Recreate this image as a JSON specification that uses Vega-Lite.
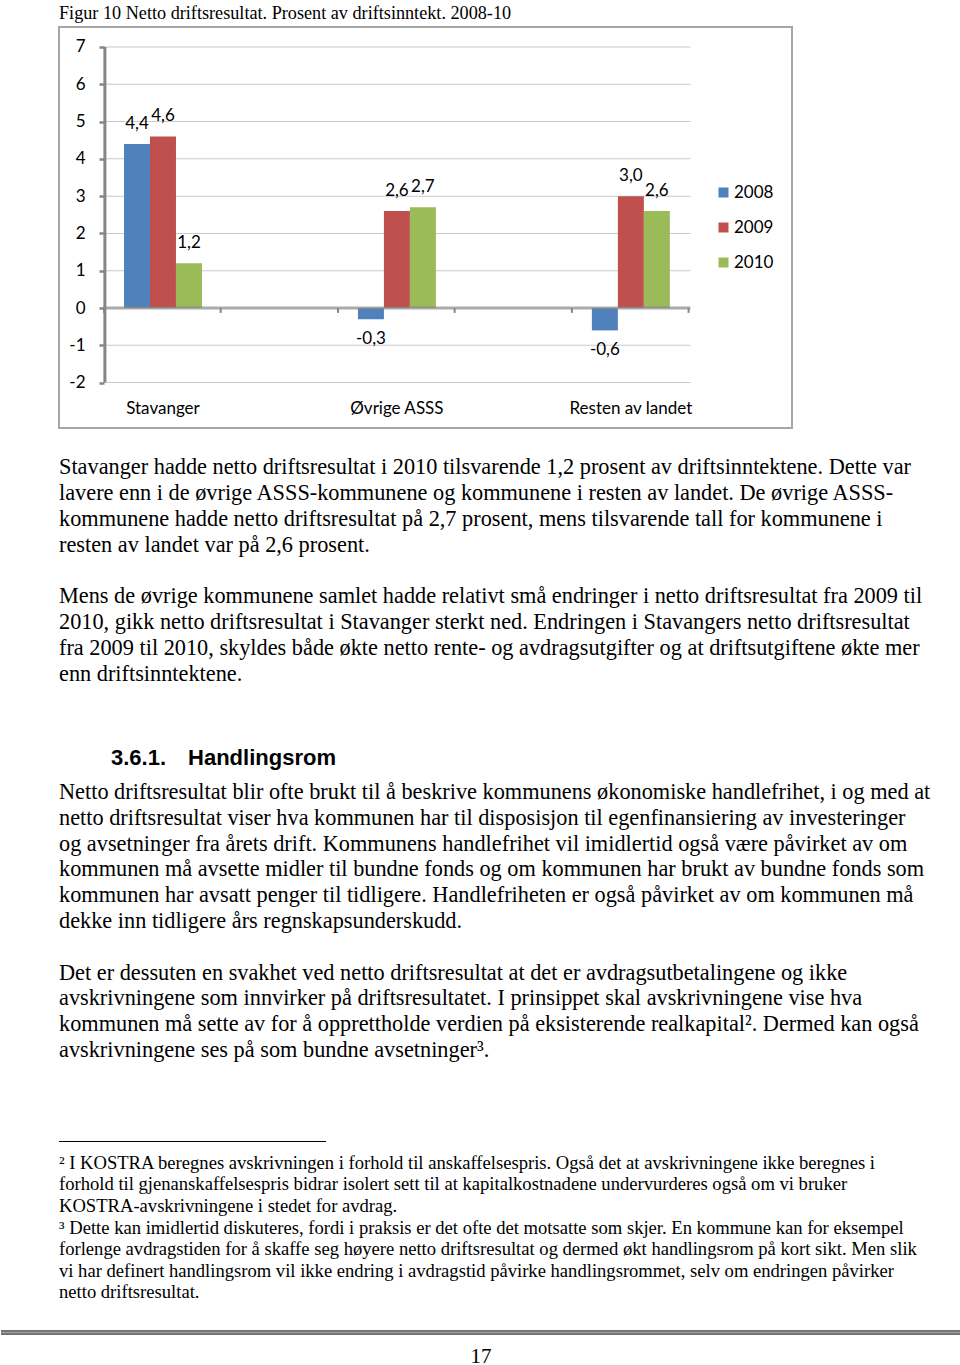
{
  "$schema": "https://vega.github.io/schema/vega-lite/v6.json",
  "background": "white",
  "padding": {"left": 0, "top": 2, "right": 0, "bottom": 0},
  "bounds": "flush",
  "spacing": 0,
  "config": {
    "view": {"stroke": null},
    "locale": {"number": {"decimal": ",", "thousands": " ", "grouping": [3], "currency": ["", " kr"], "minus": "-"}}
  },
  "vconcat": [
    {
      "width": 733,
      "height": 401,
      "view": {"stroke": "#a6a6a6", "strokeWidth": 2},
      "title": {"text": "Figur 10 Netto driftsresultat. Prosent av driftsinntekt. 2008-10", "anchor": "start", "font": "Liberation Serif", "fontSize": 18.2, "fontWeight": "normal", "color": "#000000", "baseline": "alphabetic", "offset": -10},
      "data": {"values": [
        {"region": "Stavanger", "year": "2008", "value": 4.4},
        {"region": "Stavanger", "year": "2009", "value": 4.6},
        {"region": "Stavanger", "year": "2010", "value": 1.2},
        {"region": "Øvrige ASSS", "year": "2008", "value": -0.3},
        {"region": "Øvrige ASSS", "year": "2009", "value": 2.6},
        {"region": "Øvrige ASSS", "year": "2010", "value": 2.7},
        {"region": "Resten av landet", "year": "2008", "value": -0.6},
        {"region": "Resten av landet", "year": "2009", "value": 3.0},
        {"region": "Resten av landet", "year": "2010", "value": 2.6}
      ]},
      "encoding": {
        "x": {"field": "region", "type": "nominal", "sort": null, "scale": {"domain": ["Stavanger", "Øvrige ASSS", "Resten av landet"], "paddingInner": 0.6667, "paddingOuter": 0.4, "align": 0.3473},
          "axis": {"orient": "bottom", "offset": -28, "zindex": 1, "domain": false, "ticks": false, "tickSize": 0, "labelPadding": 0, "labelAngle": 0, "labelFont": "Lato", "labelFontSize": 17, "labelColor": "#000000", "title": null}},
        "y": {"field": "value", "type": "quantitative", "scale": {"domain": [-3.217, 7.536], "nice": false, "zero": false},
          "axis": {"values": [-2, -1, 0, 1, 2, 3, 4, 5, 6, 7], "offset": -45, "zindex": 1, "domain": false, "grid": false, "ticks": true, "tickSize": 5, "tickWidth": 2.5, "tickColor": "#868686", "labelPadding": 14, "labelFont": "Lato", "labelFontSize": 17, "labelColor": "#000000", "title": null, "labelExpr": "datum.value < 0 ? '-' + abs(datum.value) : '' + datum.value"}}
      },
      "layer": [
        {
          "data": {"values": [{"v": -2}, {"v": -1}, {"v": 1}, {"v": 2}, {"v": 3}, {"v": 4}, {"v": 5}, {"v": 6}, {"v": 7}]},
          "mark": {"type": "tick", "orient": "horizontal", "size": 587, "thickness": 1, "color": "#b3b3b3"},
          "encoding": {
            "x": {"datum": "Øvrige ASSS", "type": "nominal"},
            "y": {"field": "v", "type": "quantitative"}
          }
        },
        {
          "mark": {"type": "bar"},
          "encoding": {
            "xOffset": {"field": "year", "type": "nominal", "scale": {"domain": ["2008", "2009", "2010"], "paddingInner": 0, "paddingOuter": 0}},
            "y2": {"datum": 0},
            "color": {"field": "year", "type": "nominal", "scale": {"domain": ["2008", "2009", "2010"], "range": ["#4F81BD", "#C0504D", "#9BBB59"]},
              "legend": {"title": null, "orient": "none", "legendX": 656, "legendY": 157, "symbolType": "square", "symbolSize": 100, "symbolStrokeWidth": 0, "labelFont": "Lato", "labelFontSize": 17, "labelColor": "#000000", "labelOffset": 2, "rowPadding": 17, "padding": 0}}
          }
        },
        {
          "data": {"values": [{"v": 0}]},
          "mark": {"type": "tick", "orient": "horizontal", "size": 587, "thickness": 3, "color": "#868686"},
          "encoding": {
            "x": {"datum": "Øvrige ASSS", "type": "nominal"},
            "y": {"field": "v", "type": "quantitative"}
          }
        },
        {
          "data": {"values": [{"region": "Stavanger", "from": -2, "to": 7}]},
          "mark": {"type": "rule", "strokeWidth": 3, "color": "#868686"},
          "encoding": {
            "x": {"field": "region", "type": "nominal", "sort": null, "bandPosition": -0.245},
            "y": {"field": "from", "type": "quantitative"},
            "y2": {"field": "to"}
          }
        },
        {
          "data": {"values": [{"region": "Stavanger", "from": 0, "to": -0.13}, {"region": "Øvrige ASSS", "from": 0, "to": -0.13}, {"region": "Resten av landet", "from": 0, "to": -0.13}]},
          "mark": {"type": "rule", "strokeWidth": 2, "color": "#868686"},
          "encoding": {
            "x": {"field": "region", "type": "nominal", "sort": null, "bandPosition": -0.256},
            "y": {"field": "from", "type": "quantitative"},
            "y2": {"field": "to"}
          }
        },
        {
          "data": {"values": [{"region": "Stavanger", "from": 0, "to": -0.13}, {"region": "Øvrige ASSS", "from": 0, "to": -0.13}, {"region": "Resten av landet", "from": 0, "to": -0.13}]},
          "mark": {"type": "rule", "strokeWidth": 2, "color": "#868686"},
          "encoding": {
            "x": {"field": "region", "type": "nominal", "sort": null, "bandPosition": 1.24},
            "y": {"field": "from", "type": "quantitative"},
            "y2": {"field": "to"}
          }
        },
        {
          "transform": [{"filter": "datum.value >= 0"}],
          "mark": {"type": "text", "baseline": "middle", "align": "center", "dy": -20, "font": "Lato", "fontSize": 17, "color": "#000000"},
          "encoding": {
            "xOffset": {"field": "year", "type": "nominal", "scale": {"domain": ["2008", "2009", "2010"], "paddingInner": 0, "paddingOuter": 0}},
            "text": {"field": "value", "type": "quantitative", "format": ".1f"}
          }
        },
        {
          "transform": [{"filter": "datum.value < 0"}],
          "mark": {"type": "text", "baseline": "middle", "align": "center", "dy": 20, "font": "Lato", "fontSize": 17, "color": "#000000"},
          "encoding": {
            "xOffset": {"field": "year", "type": "nominal", "scale": {"domain": ["2008", "2009", "2010"], "paddingInner": 0, "paddingOuter": 0}},
            "text": {"field": "value", "type": "quantitative", "format": ".1f"}
          }
        }
      ]
    },
    {
      "width": 844,
      "height": 273,
      "data": {"values": [
        {"line": 1, "text": "Stavanger hadde netto driftsresultat i 2010 tilsvarende 1,2 prosent av driftsinntektene. Dette var"},
        {"line": 2, "text": "lavere enn i de øvrige ASSS-kommunene og kommunene i resten av landet. De øvrige ASSS-"},
        {"line": 3, "text": "kommunene hadde netto driftsresultat på 2,7 prosent, mens tilsvarende tall for kommunene i"},
        {"line": 4, "text": "resten av landet var på 2,6 prosent."},
        {"line": 6, "text": "Mens de øvrige kommunene samlet hadde relativt små endringer i netto driftsresultat fra 2009 til"},
        {"line": 7, "text": "2010, gikk netto driftsresultat i Stavanger sterkt ned. Endringen i Stavangers netto driftsresultat"},
        {"line": 8, "text": "fra 2009 til 2010, skyldes både økte netto rente- og avdragsutgifter og at driftsutgiftene økte mer"},
        {"line": 9, "text": "enn driftsinntektene."}
      ]},
      "mark": {"type": "text", "align": "left", "baseline": "middle", "font": "Liberation Serif", "fontSize": 22.3, "color": "#000000"},
      "encoding": {
        "x": {"datum": 0, "type": "quantitative", "scale": {"domain": [0, 1], "nice": false, "zero": false}, "axis": null},
        "y": {"field": "line", "type": "quantitative", "scale": {"domain": [-0.5, 10.0405], "reverse": true, "nice": false, "zero": false}, "axis": null},
        "text": {"field": "text", "type": "nominal"}
      }
    },
    {
      "width": 844,
      "height": 399,
      "layer": [
        {
          "data": {"values": [{"line": 0, "text": "3.6.1.\u2002\u2002Handlingsrom"}]},
          "mark": {"type": "text", "align": "left", "baseline": "middle", "dx": 52, "dy": -8, "font": "Liberation Sans", "fontWeight": "bold", "fontSize": 22, "color": "#000000"},
          "encoding": {
            "x": {"datum": 0, "type": "quantitative", "scale": {"domain": [0, 1], "nice": false, "zero": false}, "axis": null},
            "y": {"field": "line", "type": "quantitative", "scale": {"domain": [-2.527, 12.938], "reverse": true, "nice": false, "zero": false}, "axis": null},
            "text": {"field": "text", "type": "nominal"}
          }
        },
        {
          "data": {"values": [
            {"line": 1, "text": "Netto driftsresultat blir ofte brukt til å beskrive kommunens økonomiske handlefrihet, i og med at"},
            {"line": 2, "text": "netto driftsresultat viser hva kommunen har til disposisjon til egenfinansiering av investeringer"},
            {"line": 3, "text": "og avsetninger fra årets drift. Kommunens handlefrihet vil imidlertid også være påvirket av om"},
            {"line": 4, "text": "kommunen må avsette midler til bundne fonds og om kommunen har brukt av bundne fonds som"},
            {"line": 5, "text": "kommunen har avsatt penger til tidligere. Handlefriheten er også påvirket av om kommunen må"},
            {"line": 6, "text": "dekke inn tidligere års regnskapsunderskudd."},
            {"line": 8, "text": "Det er dessuten en svakhet ved netto driftsresultat at det er avdragsutbetalingene og ikke"},
            {"line": 9, "text": "avskrivningene som innvirker på driftsresultatet. I prinsippet skal avskrivningene vise hva"},
            {"line": 10, "text": "kommunen må sette av for å opprettholde verdien på eksisterende realkapital². Dermed kan også"},
            {"line": 11, "text": "avskrivningene ses på som bundne avsetninger³."}
          ]},
          "mark": {"type": "text", "align": "left", "baseline": "middle", "font": "Liberation Serif", "fontSize": 22.3, "color": "#000000"},
          "encoding": {
            "x": {"datum": 0, "type": "quantitative", "scale": {"domain": [0, 1], "nice": false, "zero": false}, "axis": null},
            "y": {"field": "line", "type": "quantitative", "scale": {"domain": [-2.527, 12.938], "reverse": true, "nice": false, "zero": false}, "axis": null},
            "text": {"field": "text", "type": "nominal"}
          }
        }
      ]
    },
    {
      "width": 844,
      "height": 265,
      "layer": [
        {
          "data": {"values": [
            {"line": 1, "text": "² I KOSTRA beregnes avskrivningen i forhold til anskaffelsespris. Også det at avskrivningene ikke beregnes i"},
            {"line": 2, "text": "forhold til gjenanskaffelsespris bidrar isolert sett til at kapitalkostnadene undervurderes også om vi bruker"},
            {"line": 3, "text": "KOSTRA-avskrivningene i stedet for avdrag."},
            {"line": 4, "text": "³ Dette kan imidlertid diskuteres, fordi i praksis er det ofte det motsatte som skjer. En kommune kan for eksempel"},
            {"line": 5, "text": "forlenge avdragstiden for å skaffe seg høyere netto driftsresultat og dermed økt handlingsrom på kort sikt. Men slik"},
            {"line": 6, "text": "vi har definert handlingsrom vil ikke endring i avdragstid påvirke handlingsrommet, selv om endringen påvirker"},
            {"line": 7, "text": "netto driftsresultat."}
          ]},
          "mark": {"type": "text", "align": "left", "baseline": "middle", "font": "Liberation Serif", "fontSize": 18.6, "color": "#000000"},
          "encoding": {
            "x": {"datum": 0, "type": "quantitative", "scale": {"domain": [0, 1], "nice": false, "zero": false}, "axis": null},
            "y": {"field": "line", "type": "quantitative", "scale": {"domain": [-1.93, 10.395], "reverse": true, "nice": false, "zero": false}, "axis": null},
            "text": {"field": "text", "type": "nominal"}
          }
        },
        {
          "data": {"values": [{"kind": "footnote separator"}]},
          "mark": {"type": "rule", "strokeWidth": 1.2, "color": "#000000"},
          "encoding": {
            "x": {"datum": 0, "type": "quantitative", "scale": {"domain": [0, 1], "nice": false, "zero": false}, "axis": null},
            "x2": {"datum": 0.3164},
            "y": {"datum": 0, "type": "quantitative", "scale": {"domain": [-1.93, 10.395], "reverse": true, "nice": false, "zero": false}, "axis": null}
          }
        },
        {
          "data": {"values": [{"y": 8.814}, {"y": 8.953}]},
          "mark": {"type": "rule", "strokeWidth": 1.3, "color": "#404040"},
          "encoding": {
            "x": {"datum": -0.06872, "type": "quantitative", "scale": {"domain": [0, 1], "nice": false, "zero": false}, "axis": null},
            "x2": {"datum": 1.06872},
            "y": {"field": "y", "type": "quantitative", "scale": {"domain": [-1.93, 10.395], "reverse": true, "nice": false, "zero": false}, "axis": null}
          }
        },
        {
          "data": {"values": [{"y": 8.884}]},
          "mark": {"type": "rule", "strokeWidth": 1.6, "color": "#9a9a9a"},
          "encoding": {
            "x": {"datum": -0.06872, "type": "quantitative", "scale": {"domain": [0, 1], "nice": false, "zero": false}, "axis": null},
            "x2": {"datum": 1.06872},
            "y": {"field": "y", "type": "quantitative", "scale": {"domain": [-1.93, 10.395], "reverse": true, "nice": false, "zero": false}, "axis": null}
          }
        },
        {
          "data": {"values": [{"line": 10, "text": "17"}]},
          "mark": {"type": "text", "align": "center", "baseline": "middle", "font": "Liberation Serif", "fontSize": 21, "color": "#000000"},
          "encoding": {
            "x": {"datum": 0.5, "type": "quantitative", "scale": {"domain": [0, 1], "nice": false, "zero": false}, "axis": null},
            "y": {"field": "line", "type": "quantitative", "scale": {"domain": [-1.93, 10.395], "reverse": true, "nice": false, "zero": false}, "axis": null},
            "text": {"field": "text", "type": "nominal"}
          }
        }
      ]
    }
  ]
}
